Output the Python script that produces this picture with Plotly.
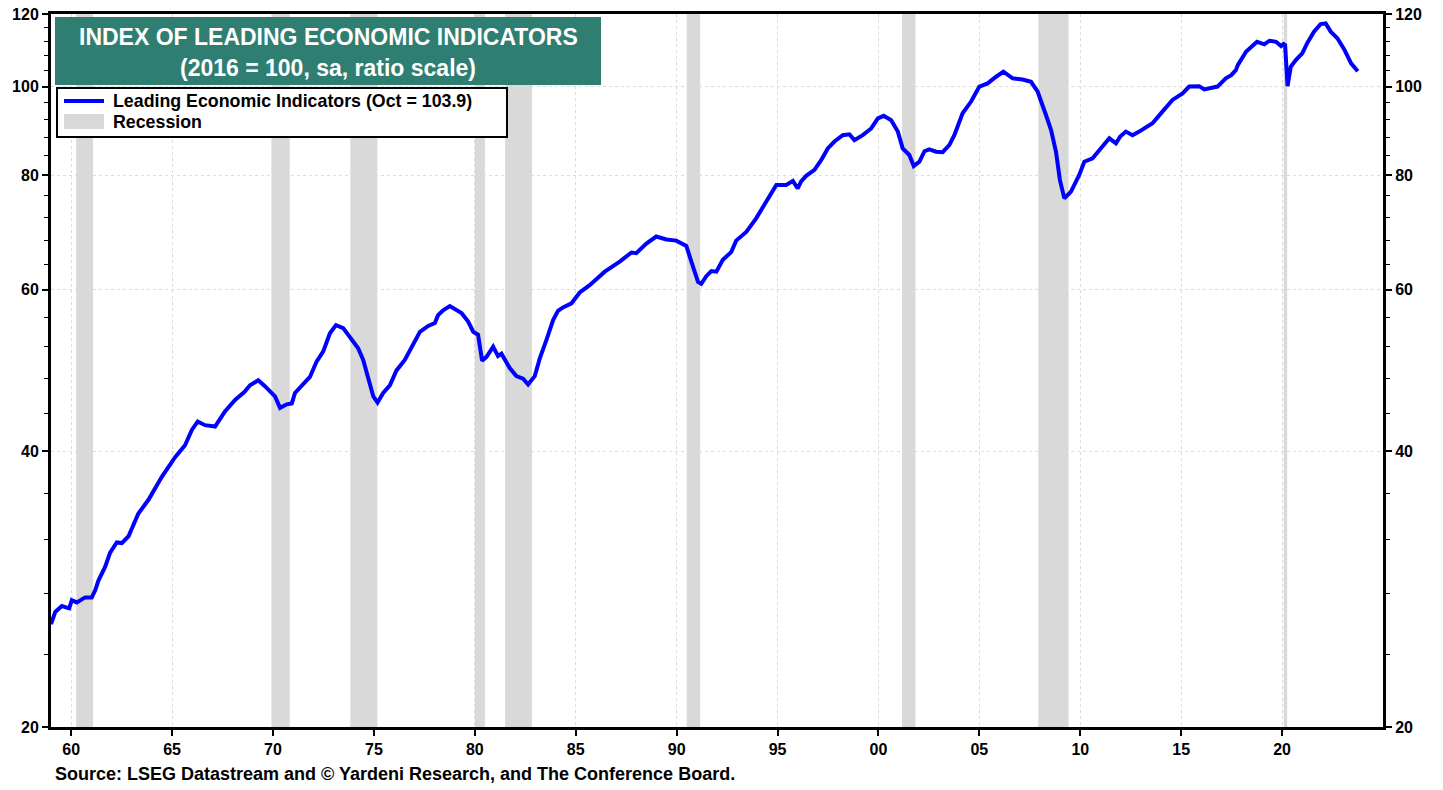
import plotly.graph_objects as go
import math

# ---------------- data ----------------
years = [1959.0, 1959.21, 1959.54, 1959.9, 1960.03, 1960.28, 1960.69, 1961.02, 1961.19, 1961.35,
         1961.68, 1961.93, 1962.26, 1962.51, 1962.84, 1963.33, 1963.83, 1964.49, 1965.15, 1965.64,
         1965.98, 1966.27, 1966.63, 1967.13, 1967.62, 1968.12, 1968.58, 1968.86, 1969.27, 1969.6,
         1970.1, 1970.35, 1970.68, 1970.93, 1971.09, 1971.5, 1971.83, 1972.16, 1972.49, 1972.82,
         1973.12, 1973.48, 1973.81, 1974.22, 1974.47, 1974.72, 1974.97, 1975.18, 1975.46, 1975.79,
         1976.12, 1976.53, 1976.95, 1977.28, 1977.69, 1978.02, 1978.18, 1978.43, 1978.76, 1979.09,
         1979.34, 1979.67, 1979.92, 1980.16, 1980.36, 1980.58, 1980.91, 1981.15, 1981.32, 1981.73,
         1982.06, 1982.39, 1982.64, 1982.97, 1983.22, 1983.55, 1983.88, 1984.12, 1984.37, 1984.79,
         1985.2, 1985.69, 1986.44, 1987.18, 1987.76, 1988.0, 1988.5, 1988.99, 1989.49, 1989.98,
         1990.48, 1990.81, 1991.06, 1991.22, 1991.47, 1991.72, 1991.97, 1992.29, 1992.71, 1992.95,
         1993.45, 1993.94, 1994.27, 1994.6, 1994.94, 1995.43, 1995.76, 1996.0, 1996.17, 1996.42,
         1996.83, 1997.16, 1997.49, 1997.82, 1998.23, 1998.56, 1998.81, 1999.22, 1999.64, 1999.97,
         2000.26, 2000.63, 2000.96, 2001.2, 2001.53, 2001.75, 2002.03, 2002.28, 2002.52, 2002.86,
         2003.18, 2003.51, 2003.76, 2004.17, 2004.59, 2005.0, 2005.41, 2005.83, 2006.19, 2006.65,
         2007.14, 2007.56, 2007.89, 2008.3, 2008.55, 2008.8, 2008.99, 2009.21, 2009.54, 2009.95,
         2010.2, 2010.61, 2010.94, 2011.44, 2011.77, 2011.98, 2012.26, 2012.59, 2012.92, 2013.08,
         2013.42, 2013.58, 2014.07, 2014.57, 2015.07, 2015.4, 2015.89, 2016.14, 2016.8, 2017.21,
         2017.48, 2017.71, 2017.81, 2018.04, 2018.22, 2018.76, 2019.12, 2019.37, 2019.7, 2019.95,
         2020.07, 2020.15, 2020.27, 2020.43, 2020.68, 2021.0, 2021.25, 2021.58, 2021.91, 2022.16,
         2022.41, 2022.74, 2023.08, 2023.42, 2023.75]

lei = [25.9, 26.7, 27.1, 26.95, 27.5, 27.35, 27.7, 27.7, 28.2, 28.9,
       29.9, 31.0, 31.8, 31.75, 32.3, 34.2, 35.4, 37.5, 39.4, 40.6,
       42.2, 43.1, 42.7, 42.55, 44.2, 45.5, 46.4, 47.2, 47.8, 47.1,
       45.9, 44.6, 45.0, 45.1, 46.3, 47.4, 48.2, 50.1, 51.4, 53.8,
       54.9, 54.5, 53.3, 51.8, 50.3, 48.2, 45.9, 45.2, 46.3, 47.2,
       49.0, 50.3, 52.4, 54.0, 54.8, 55.2, 56.3, 57.0, 57.6, 57.1,
       56.6, 55.4, 54.0, 53.6, 50.2, 50.7, 52.0, 50.8, 51.1, 49.3,
       48.3, 48.0, 47.3, 48.3, 50.5, 52.9, 55.6, 56.9, 57.4, 58.0,
       59.6, 60.7, 62.8, 64.4, 65.9, 65.8, 67.4, 68.6, 68.1, 67.9,
       67.0, 63.6, 61.2, 60.9, 62.1, 62.9, 62.8, 64.7, 66.0, 67.9,
       69.4, 71.8, 73.9, 76.1, 78.1, 78.1, 78.9, 77.4, 78.8, 79.9,
       81.1, 83.1, 85.6, 87.1, 88.5, 88.7, 87.4, 88.5, 90.0, 92.3,
       92.9, 91.9, 89.3, 85.6, 84.2, 81.9, 82.8, 85.0, 85.4, 84.9,
       84.8, 86.3, 88.5, 93.5, 96.3, 100.0, 100.8, 102.5, 103.8, 102.1,
       101.8, 101.2, 98.7, 93.1, 89.7, 84.8, 79.1, 75.5, 76.8, 80.1,
       82.8, 83.5, 85.3, 87.8, 86.7, 88.2, 89.3, 88.5, 89.3, 89.7,
       90.8, 91.2, 93.9, 96.7, 98.3, 100.0, 100.1, 99.3, 100.0, 102.1,
       102.9, 104.2, 105.6, 107.5, 109.2, 111.9, 111.2, 112.2, 111.9, 110.7,
       111.3, 111.0, 100.1, 105.1, 106.9, 108.7, 111.6, 114.8, 117.0, 117.2,
       114.8, 112.9, 109.8, 106.0, 103.9]

rec_start = [1960.25, 1969.92, 1973.83, 1980.0, 1981.5, 1990.5, 2001.17, 2007.92, 2020.08]
rec_end = [1961.08, 1970.83, 1975.17, 1980.5, 1982.83, 1991.17, 2001.83, 2009.42, 2020.25]

x_tickvals = [1960, 1965, 1970, 1975, 1980, 1985, 1990, 1995, 2000, 2005, 2010, 2015, 2020]
x_ticktext = ["60", "65", "70", "75", "80", "85", "90", "95", "00", "05", "10", "15", "20"]
y_tickvals = [20, 40, 60, 80, 100, 120]
y_ticktext = ["20", "40", "60", "80", "100", "120"]
y_minor = [24, 28, 32, 36, 44, 48, 52, 56, 64, 68, 72, 76, 84, 88, 92, 96, 104, 108, 112, 116]

series_name = "Leading Economic Indicators (Oct = 103.9)"
recession_name = "Recession"
title1 = "INDEX OF LEADING ECONOMIC INDICATORS"
title2 = "(2016 = 100, sa, ratio scale)"
source = "Source: LSEG Datastream and \u00a9 Yardeni Research, and The Conference Board."

# ---------------- layout helpers ----------------
W, H = 1443, 790
# plot area in page pixels
L, R, T, B = 51, 1383, 14, 727

def px(xp):
    return (xp - L) / (R - L)

def py(yp):
    return (B - yp) / (B - T)

FONT = "Liberation Sans, Arial, sans-serif"
BLUE = "#0000ff"
GRAY = "#d9d9d9"
TEAL = "#2e7e72"
GRID = "#dcdcdc"

fig = go.Figure()
fig.add_trace(go.Scatter(x=years, y=lei, mode="lines", line=dict(color=BLUE, width=4),
                         name=series_name, showlegend=False, hoverinfo="x+y"))
fig.add_trace(go.Scatter(x=years, y=lei, mode="lines", line=dict(color="rgba(0,0,0,0)", width=0),
                         yaxis="y2", showlegend=False, hoverinfo="skip"))

shapes = []
for s, e in zip(rec_start, rec_end):
    shapes.append(dict(type="rect", xref="x", yref="paper", x0=s, x1=e, y0=0, y1=1,
                       fillcolor=GRAY, line=dict(width=0), layer="between"))

# title box
shapes.append(dict(type="rect", xref="paper", yref="paper", x0=px(55), x1=px(601),
                   y0=py(85), y1=py(17), fillcolor=TEAL, line=dict(width=0), layer="above"))
# legend box
shapes.append(dict(type="rect", xref="paper", yref="paper", x0=px(57), x1=px(507),
                   y0=py(137), y1=py(88), fillcolor="white", line=dict(color="black", width=2),
                   layer="above"))
shapes.append(dict(type="line", xref="paper", yref="paper", x0=px(64), x1=px(104),
                   y0=py(101), y1=py(101), line=dict(color=BLUE, width=4), layer="above"))
shapes.append(dict(type="rect", xref="paper", yref="paper", x0=px(64), x1=px(104),
                   y0=py(129), y1=py(114), fillcolor=GRAY, line=dict(width=0), layer="above"))

annotations = [
    dict(text=title1, xref="paper", yref="paper", x=px(328), y=py(37), xanchor="center",
         yanchor="middle", showarrow=False, font=dict(family=FONT, size=23, color="white", weight="bold")),
    dict(text=title2, xref="paper", yref="paper", x=px(328), y=py(68), xanchor="center",
         yanchor="middle", showarrow=False, font=dict(family=FONT, size=23, color="white", weight="bold")),
    dict(text=series_name, xref="paper", yref="paper", x=px(111), y=py(101), xanchor="left",
         yanchor="middle", showarrow=False, font=dict(family=FONT, size=17.8, color="black", weight="bold")),
    dict(text=recession_name, xref="paper", yref="paper", x=px(111), y=py(122), xanchor="left",
         yanchor="middle", showarrow=False, font=dict(family=FONT, size=17.8, color="black", weight="bold")),
    dict(text=source, xref="paper", yref="paper", x=px(53), y=py(774), xanchor="left",
         yanchor="middle", showarrow=False, font=dict(family=FONT, size=18, color="black", weight="bold")),
]

tickfont = dict(family=FONT, size=16, color="black", weight="bold")
yaxis_common = dict(
    type="log", range=[math.log10(20), math.log10(120)],
    tickmode="array", tickvals=y_tickvals, ticktext=y_ticktext,
    ticks="outside", ticklen=6, tickwidth=1.5, tickcolor="black",
    tickfont=tickfont, fixedrange=True, automargin=False, ticklabeloverflow="allow",
    minor=dict(tickmode="array", tickvals=y_minor, ticks="outside", ticklen=4,
               tickwidth=1, tickcolor="black", showgrid=False),
)

fig.update_layout(
    width=W, height=H,
    margin=dict(l=L, r=W - R, t=T, b=H - B, autoexpand=False),
    paper_bgcolor="white", plot_bgcolor="white",
    showlegend=False,
    shapes=shapes, annotations=annotations,
    xaxis=dict(range=[1959, 2025], tickmode="array", tickvals=x_tickvals, ticktext=x_ticktext,
               ticks="outside", ticklen=6, tickwidth=1.5, tickcolor="black", tickfont=tickfont,
               showgrid=True, gridcolor=GRID, griddash="dot", gridwidth=1, automargin=False,
               ticklabeloverflow="allow", fixedrange=True,
               showline=True, linecolor="black", linewidth=3, mirror=True, zeroline=False),
    yaxis=dict(**yaxis_common, side="left", showgrid=True, gridcolor=GRID, griddash="dot",
               gridwidth=1, showline=True, linecolor="black", linewidth=3, mirror=True, zeroline=False),
    yaxis2=dict(**yaxis_common, side="right", overlaying="y", anchor="x", showgrid=False,
                showline=True, linecolor="black", linewidth=3, zeroline=False),
)

# remove the browser's default 8px body margin so the figure sits at the page origin
fig.write_html("out.html", config={"displayModeBar": False},
               post_script="document.body.style.margin='0px';")
